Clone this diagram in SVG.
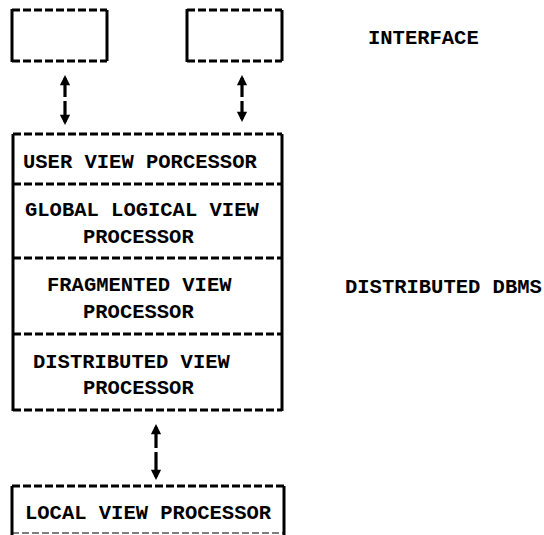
<svg xmlns="http://www.w3.org/2000/svg" width="544" height="535" viewBox="0 0 544 535">
<style>
.bg{fill:#ffffff}
.edge{stroke:#000;stroke-width:3;fill:none}
.dash{stroke:#000;stroke-width:3;fill:none;stroke-dasharray:8 3}
.faint{stroke:#555;stroke-width:1.5;fill:none;stroke-dasharray:7 3}
.t{font-family:"Liberation Mono","DejaVu Sans Mono",monospace;font-weight:bold;font-size:20.5px;fill:#000}
.conn{stroke:#000;stroke-width:3.2;fill:none}
</style>
<defs>
<marker id="ah" viewBox="0 0 10 10" refX="7" refY="5" markerWidth="3.6" markerHeight="3.2" orient="auto-start-reverse" markerUnits="strokeWidth">
<path d="M0,0 L10,5 L0,10 z" fill="#000"/>
</marker>
</defs>
<rect class="bg" x="0" y="0" width="544" height="535"/>

<g id="interface-box-1">
<path class="dash" d="M12,10 H107 M12,61 H107"/>
<path class="edge" d="M12,9 V62 M107,10 V61"/>
</g>
<g id="interface-box-2">
<path class="dash" d="M187,10 H282 M187,61 H282"/>
<path class="edge" d="M187,9 V62 M282,10 V61"/>
</g>

<g id="user-view-processor">
<path class="dash" d="M13,134 H282"/>
<path class="edge" d="M13,134 V184 M282,134 V184"/>
<text class="t" x="23" y="168">USER VIEW PORCESSOR</text>
</g>
<g id="global-logical-view-processor">
<path class="dash" d="M13,184 H282"/>
<path class="edge" d="M13,184 V258 M282,184 V258"/>
<text class="t" x="25" y="216">GLOBAL LOGICAL VIEW</text>
<text class="t" x="83" y="243">PROCESSOR</text>
</g>
<g id="fragmented-view-processor">
<path class="dash" d="M13,258 H282"/>
<path class="edge" d="M13,258 V334 M282,258 V334"/>
<text class="t" x="47" y="291">FRAGMENTED VIEW</text>
<text class="t" x="83" y="318">PROCESSOR</text>
</g>
<g id="distributed-view-processor">
<path class="dash" d="M13,334 H282 M13,410 H282"/>
<path class="edge" d="M13,334 V411 M282,334 V411"/>
<text class="t" x="33" y="368">DISTRIBUTED VIEW</text>
<text class="t" x="83" y="394">PROCESSOR</text>
</g>

<g id="local-view-processor">
<path class="dash" d="M12,486 H284"/>
<path class="faint" d="M12,533 H284"/>
<path class="edge" d="M12,486 V535 M284,486 V535"/>
<text class="t" x="25" y="519">LOCAL VIEW PROCESSOR</text>
</g>

<text class="t" x="368" y="44">INTERFACE</text>
<text class="t" x="345" y="293">DISTRIBUTED DBMS</text>

<g id="connectors">
<path class="conn" marker-start="url(#ah)" d="M65,78 V97"/>
<path class="conn" marker-end="url(#ah)" d="M65,101 V122"/>
<path class="conn" marker-start="url(#ah)" d="M242,78 V97"/>
<path class="conn" marker-end="url(#ah)" d="M242,101 V119"/>
<path class="conn" marker-start="url(#ah)" d="M156,427 V448"/>
<path class="conn" marker-end="url(#ah)" d="M156,452 V477"/>
</g>
</svg>
